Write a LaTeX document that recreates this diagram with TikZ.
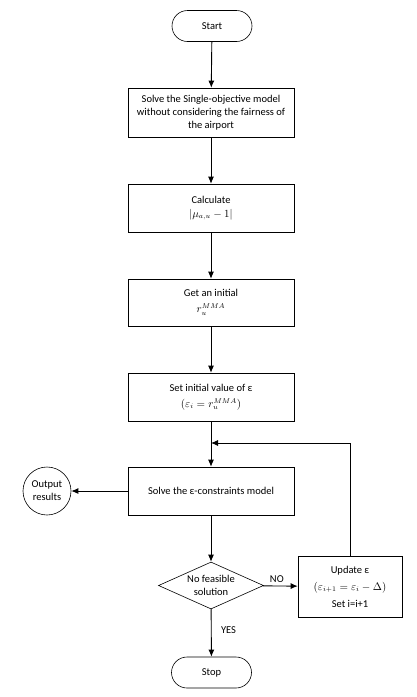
\documentclass[tikz,border=0pt]{standalone}
\usepackage{fontspec}
\setmainfont{Carlito}
\usetikzlibrary{shapes.geometric,arrows.meta}

\begin{document}
\begin{tikzpicture}[x=1pt,y=-1pt,>={Latex[length=7pt,width=6pt]}]

    \tikzset{every node/.style={font=\fontsize{10.5}{13}\selectfont},
             procbox/.style={draw,line width=0.6pt,rectangle,minimum width=166pt,minimum height=48pt,align=center,inner sep=2pt},
             termbox/.style={draw,line width=0.6pt,rectangle,rounded corners=15.5pt,minimum width=80pt,minimum height=31pt},
             decbox/.style={draw,line width=0.6pt,diamond,aspect=2.2,minimum width=105pt,minimum height=47pt,inner sep=0pt,align=center},
             outbox/.style={draw,line width=0.6pt,circle,minimum size=48pt,inner sep=0pt,align=center},
             flow/.style={->,line width=0.9pt}}

    \useasboundingbox (0,0) rectangle (416,697);

    \node[termbox] (start) at (212,26) {Start};
    \node[procbox,minimum height=49pt] (solve1) at (211,112.5) {Solve the Single-objective model\\without considering the fairness of\\the airport};
    \node[procbox] (calc) at (211,208) {Calculate\\[1pt]$|\mu_{a,u}-1|$};
    \node[procbox,minimum height=47pt] (init) at (211,302.5) {Get an initial\\[3pt]$r_u^{MMA}$};
    \node[procbox] (seteps) at (211,397) {Set initial value of ε\\[3pt]$(\varepsilon_i = r_u^{MMA})$};
    \node[procbox] (solve2) at (211,491) {Solve the ε-constraints model};
    \node[outbox] (out) at (47,491) {Output\\results};
    \node[decbox] (feas) at (211,585.5) {No feasible\\solution};
    \node[procbox,minimum width=104pt,minimum height=61pt] (upd) at (350,586.5) {Update ε\\[4pt]$(\varepsilon_{i+1}=\varepsilon_i-\Delta)$\\[4pt]Set i=i+1};
    \node[termbox] (stop) at (211.5,672.5) {Stop};
    \coordinate (merge) at (211,443);

    \draw[flow] (start) -- (solve1);
    \draw[flow] (solve1) -- (calc);
    \draw[flow] (calc) -- (init);
    \draw[flow] (init) -- (seteps);
    \draw[flow] (seteps) -- (solve2);
    \draw[flow] (solve2) -- (out);
    \draw[flow] (solve2) -- (feas);
    \draw[flow] (feas) -- node[above,pos=0.4] {NO} (upd);
    \draw[flow] (feas) -- node[right,pos=0.45,xshift=6pt] {YES} (stop);
    \draw[flow] (upd.north) |- (merge);

\end{tikzpicture}
\end{document}
